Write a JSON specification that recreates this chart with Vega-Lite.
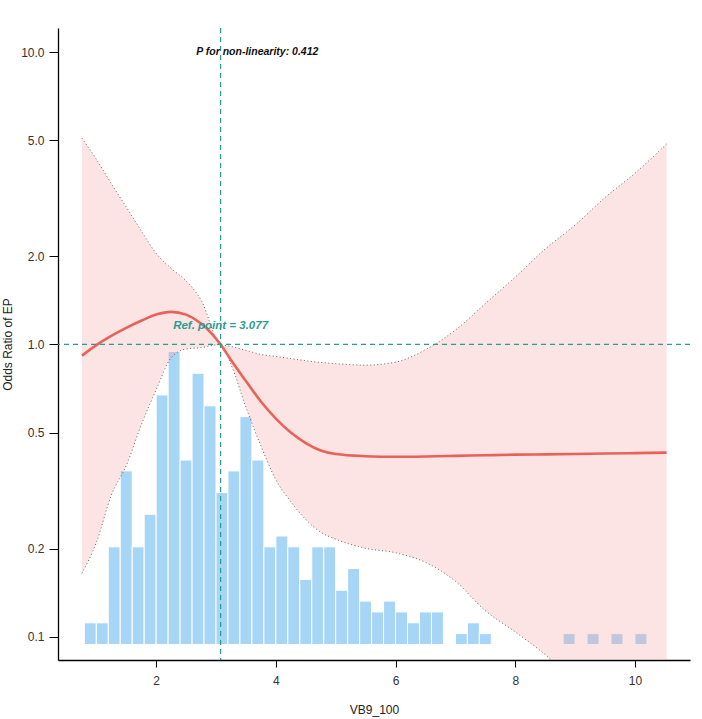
{
  "$schema": "https://vega.github.io/schema/vega-lite/v6.json",
  "width": 632,
  "height": 632,
  "autosize": "none",
  "padding": {"left": 58, "top": 28, "right": 12, "bottom": 59},
  "background": "white",
  "config": {
    "view": {"stroke": null},
    "font": "Liberation Sans",
    "axis": {
      "grid": false,
      "domainColor": "#000000",
      "domainWidth": 1.3,
      "tickColor": "#000000",
      "tickWidth": 1,
      "tickSize": 7,
      "labelFont": "Liberation Sans",
      "labelFontSize": 12,
      "labelColor": "#333333",
      "titleFont": "Liberation Sans",
      "titleFontSize": 12,
      "titleFontWeight": "normal",
      "titleColor": "#222222"
    }
  },
  "datasets": {
    "hist": [
      {"start": 0.8, "end": 1.0, "count": 2},
      {"start": 1.0, "end": 1.2, "count": 2},
      {"start": 1.2, "end": 1.4, "count": 9},
      {"start": 1.4, "end": 1.6, "count": 16},
      {"start": 1.6, "end": 1.8, "count": 9},
      {"start": 1.8, "end": 2.0, "count": 12},
      {"start": 2.0, "end": 2.2, "count": 23},
      {"start": 2.2, "end": 2.4, "count": 27},
      {"start": 2.4, "end": 2.6, "count": 17},
      {"start": 2.6, "end": 2.8, "count": 25},
      {"start": 2.8, "end": 3.0, "count": 22},
      {"start": 3.0, "end": 3.2, "count": 14},
      {"start": 3.2, "end": 3.4, "count": 16},
      {"start": 3.4, "end": 3.6, "count": 21},
      {"start": 3.6, "end": 3.8, "count": 17},
      {"start": 3.8, "end": 4.0, "count": 9},
      {"start": 4.0, "end": 4.2, "count": 10},
      {"start": 4.2, "end": 4.4, "count": 9},
      {"start": 4.4, "end": 4.6, "count": 6},
      {"start": 4.6, "end": 4.8, "count": 9},
      {"start": 4.8, "end": 5.0, "count": 9},
      {"start": 5.0, "end": 5.2, "count": 5},
      {"start": 5.2, "end": 5.4, "count": 7},
      {"start": 5.4, "end": 5.6, "count": 4},
      {"start": 5.6, "end": 5.8, "count": 3},
      {"start": 5.8, "end": 6.0, "count": 4},
      {"start": 6.0, "end": 6.2, "count": 3},
      {"start": 6.2, "end": 6.4, "count": 2},
      {"start": 6.4, "end": 6.6, "count": 3},
      {"start": 6.6, "end": 6.8, "count": 3},
      {"start": 7.0, "end": 7.2, "count": 1},
      {"start": 7.2, "end": 7.4, "count": 2},
      {"start": 7.4, "end": 7.6, "count": 1},
      {"start": 8.8, "end": 9.0, "count": 1},
      {"start": 9.2, "end": 9.4, "count": 1},
      {"start": 9.6, "end": 9.8, "count": 1},
      {"start": 10.0, "end": 10.2, "count": 1}
    ],
    "curve": [
      {"x": 0.76, "or": 0.916, "lo": 0.165, "hi": 5.07},
      {"x": 1.0, "or": 0.995, "lo": 0.21, "hi": 4.3},
      {"x": 1.25, "or": 1.07, "lo": 0.305, "hi": 3.55},
      {"x": 1.5, "or": 1.14, "lo": 0.385, "hi": 2.95},
      {"x": 1.75, "or": 1.205, "lo": 0.53, "hi": 2.45},
      {"x": 2.0, "or": 1.265, "lo": 0.70, "hi": 2.05},
      {"x": 2.25, "or": 1.293, "lo": 0.90, "hi": 1.82},
      {"x": 2.5, "or": 1.265, "lo": 0.965, "hi": 1.65},
      {"x": 2.75, "or": 1.18, "lo": 0.975, "hi": 1.42},
      {"x": 3.077, "or": 1.0, "lo": 1.0, "hi": 1.0},
      {"x": 3.25, "or": 0.885, "lo": 0.855, "hi": 0.985},
      {"x": 3.5, "or": 0.75, "lo": 0.61, "hi": 0.955},
      {"x": 3.75, "or": 0.638, "lo": 0.45, "hi": 0.925},
      {"x": 4.0, "or": 0.558, "lo": 0.345, "hi": 0.91},
      {"x": 4.25, "or": 0.5, "lo": 0.29, "hi": 0.895},
      {"x": 4.5, "or": 0.46, "lo": 0.252, "hi": 0.88},
      {"x": 4.75, "or": 0.434, "lo": 0.228, "hi": 0.868},
      {"x": 5.0, "or": 0.422, "lo": 0.216, "hi": 0.86},
      {"x": 5.5, "or": 0.415, "lo": 0.201, "hi": 0.85},
      {"x": 6.0, "or": 0.413, "lo": 0.194, "hi": 0.87},
      {"x": 6.5, "or": 0.414, "lo": 0.18, "hi": 0.96},
      {"x": 7.0, "or": 0.416, "lo": 0.155, "hi": 1.12},
      {"x": 7.5, "or": 0.418, "lo": 0.123, "hi": 1.38},
      {"x": 8.0, "or": 0.42, "lo": 0.104, "hi": 1.7},
      {"x": 8.5, "or": 0.421, "lo": 0.087, "hi": 2.12},
      {"x": 9.0, "or": 0.422, "lo": 0.07, "hi": 2.56},
      {"x": 9.5, "or": 0.424, "lo": 0.056, "hi": 3.18},
      {"x": 10.0, "or": 0.425, "lo": 0.046, "hi": 3.85},
      {"x": 10.53, "or": 0.427, "lo": 0.0375, "hi": 4.85}
    ]
  },
  "resolve": {"scale": {"y": "independent"}},
  "layer": [
    {
      "data": {"name": "hist"},
      "mark": {"type": "bar", "color": "#A7D5F6", "stroke": "#ffffff", "strokeWidth": 1},
      "encoding": {
        "x": {"field": "start", "type": "quantitative", "scale": {"domain": [0.36, 10.92], "nice": false, "zero": false},
              "axis": {"values": [2, 4, 6, 8, 10], "format": "d", "title": "VB9_100", "labelPadding": 8, "titlePadding": 18}},
        "x2": {"field": "end"},
        "y": {"field": "count", "type": "quantitative", "scale": {"domain": [-1.43, 56.82], "nice": false, "zero": false}, "axis": null},
        "y2": {"datum": 0}
      }
    },
    {
      "layer": [
        {
          "data": {"name": "curve"},
          "mark": {"type": "area", "color": "#F8A5A5", "opacity": 0.3, "clip": true, "interpolate": "monotone"},
          "encoding": {
            "x": {"field": "x", "type": "quantitative"},
            "y": {"field": "lo", "type": "quantitative",
                  "scale": {"type": "log", "domain": [0.0834, 12.08], "nice": false},
                  "axis": {"values": [0.1, 0.2, 0.5, 1, 2, 5, 10], "format": ".1f", "title": "Odds Ratio of EP", "tickSize": 9, "labelPadding": 5, "titlePadding": 6}},
            "y2": {"field": "hi"}
          }
        },
        {
          "data": {"name": "curve"},
          "mark": {"type": "line", "color": "#666666", "strokeWidth": 1, "strokeDash": [1, 2.5], "clip": true, "interpolate": "monotone"},
          "encoding": {
            "x": {"field": "x", "type": "quantitative"},
            "y": {"field": "lo", "type": "quantitative"}
          }
        },
        {
          "data": {"name": "curve"},
          "mark": {"type": "line", "color": "#666666", "strokeWidth": 1, "strokeDash": [1, 2.5], "clip": true, "interpolate": "monotone"},
          "encoding": {
            "x": {"field": "x", "type": "quantitative"},
            "y": {"field": "hi", "type": "quantitative"}
          }
        },
        {
          "data": {"name": "curve"},
          "mark": {"type": "line", "color": "#E8625A", "strokeWidth": 2.6, "clip": true, "interpolate": "monotone"},
          "encoding": {
            "x": {"field": "x", "type": "quantitative"},
            "y": {"field": "or", "type": "quantitative"}
          }
        },
        {
          "data": {"values": [{"ref": 3.077}]},
          "mark": {"type": "rule", "color": "#2A9D8F", "strokeWidth": 1.2, "strokeDash": [5, 4]},
          "encoding": {"x": {"field": "ref", "type": "quantitative"}}
        },
        {
          "data": {"values": [{"ref": 1}]},
          "mark": {"type": "rule", "color": "#2A9D8F", "strokeWidth": 1.2, "strokeDash": [5, 4]},
          "encoding": {"y": {"field": "ref", "type": "quantitative"}}
        },
        {
          "data": {"values": [{"x": 3.69, "y": 10, "label": "P for non-linearity: 0.412"}]},
          "mark": {"type": "text", "font": "Liberation Sans", "fontSize": 10.5, "fontWeight": "bold", "fontStyle": "italic", "color": "#111111", "align": "center", "baseline": "middle"},
          "encoding": {
            "x": {"field": "x", "type": "quantitative"},
            "y": {"field": "y", "type": "quantitative"},
            "text": {"field": "label"}
          }
        },
        {
          "data": {"values": [{"x": 3.077, "y": 1.16, "label": "Ref. point = 3.077"}]},
          "mark": {"type": "text", "font": "Liberation Sans", "fontSize": 11.5, "fontWeight": "bold", "fontStyle": "italic", "color": "#2A9D8F", "align": "center", "baseline": "middle"},
          "encoding": {
            "x": {"field": "x", "type": "quantitative"},
            "y": {"field": "y", "type": "quantitative"},
            "text": {"field": "label"}
          }
        }
      ]
    }
  ]
}
